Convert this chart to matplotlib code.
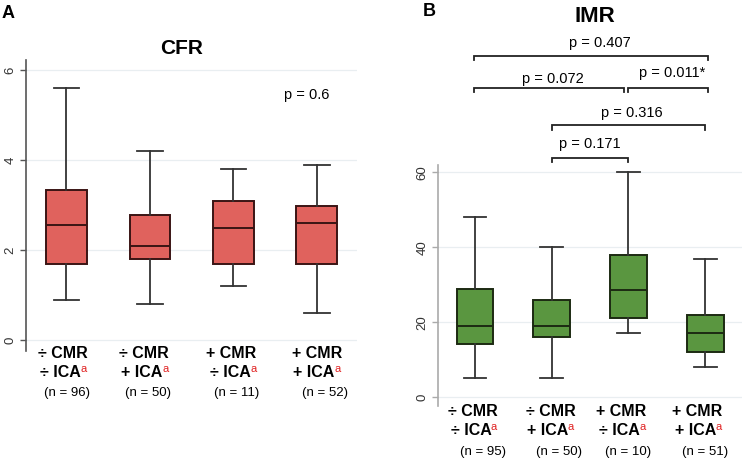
import matplotlib
matplotlib.use("Agg")
import matplotlib.pyplot as plt

plt.rcParams['font.family'] = ['Liberation Sans', 'DejaVu Sans']

# ---------------- data ----------------
groups_cmr = ["÷ CMR", "÷ CMR", "+ CMR", "+ CMR"]
groups_ica = ["÷ ICA", "+ ICA", "÷ ICA", "+ ICA"]
n_cfr = [96, 50, 11, 52]
n_imr = [95, 50, 10, 51]

# CFR box statistics: whislo, q1, median, q3, whishi
cfr_whislo = [0.9, 0.8, 1.2, 0.6]
cfr_q1 = [1.7, 1.8, 1.7, 1.7]
cfr_med = [2.55, 2.1, 2.5, 2.6]
cfr_q3 = [3.33, 2.78, 3.08, 2.98]
cfr_whishi = [5.6, 4.2, 3.8, 3.9]
cfr_p = "p = 0.6"

# IMR box statistics
imr_whislo = [5, 5, 17, 8]
imr_q1 = [14.2, 16.1, 21.1, 12.1]
imr_med = [19, 19, 28.5, 17]
imr_q3 = [28.8, 25.8, 37.9, 21.8]
imr_whishi = [48, 40, 60, 37]

# pairwise comparisons for IMR (group i, group j, label)
comp_pairs = [(2, 3), (2, 4), (1, 3), (3, 4), (1, 4)]
comp_labels = ["p = 0.171", "p = 0.316", "p = 0.072", "p = 0.011*", "p = 0.407"]

# ---------------- layout ----------------
W, H = 750, 459
fig = plt.figure(figsize=(7.5, 4.59), dpi=100)

def fx(px):
    return px / W

def fy(py):
    return 1 - py / H

axA = fig.add_axes([fx(26), fy(351), fx(357) - fx(26), fy(60) - fy(351)])
axB = fig.add_axes([fx(438), fy(406), fx(742) - fx(438), fy(165) - fy(406)])

def make_stats(lo, q1, med, q3, hi):
    return [dict(whislo=a, q1=b, med=c, q3=d, whishi=e, fliers=[])
            for a, b, c, d, e in zip(lo, q1, med, q3, hi)]

def draw_box(ax, stats, face, edge, width, spine_color):
    pos = [1, 2, 3, 4]
    ax.bxp(stats, positions=pos, widths=width, patch_artist=True,
           showfliers=False,
           boxprops=dict(facecolor=face, edgecolor=edge, linewidth=1.4),
           medianprops=dict(color=edge, linewidth=1.4),
           whiskerprops=dict(color="#333333", linewidth=1.3),
           capprops=dict(color="#333333", linewidth=1.3),
           capwidths=width * 0.62, zorder=3)
    for s in ["top", "right", "bottom"]:
        ax.spines[s].set_visible(False)
    ax.spines["left"].set_color(spine_color)
    ax.spines["left"].set_linewidth(1.2)
    ax.set_xticks([])
    ax.yaxis.grid(True, color="#e9eef1", linewidth=0.9)
    ax.set_axisbelow(True)
    ax.tick_params(axis="y", length=4, width=1, color=spine_color,
                   labelsize=9.5, labelcolor="#333333", pad=3)

statsA = make_stats(cfr_whislo, cfr_q1, cfr_med, cfr_q3, cfr_whishi)
statsB = make_stats(imr_whislo, imr_q1, imr_med, imr_q3, imr_whishi)

axA.set_xlim(0.515, 4.48)
axA.set_ylim(-0.244, 6.222)
axA.set_yticks([0, 2, 4, 6])
draw_box(axA, statsA, "#e0625d", "#3a1414", 0.49, "#555555")

axB.set_xlim(0.517, 4.48)
axB.set_ylim(-2.4, 62.0)
axB.set_yticks([0, 20, 40, 60])
draw_box(axB, statsB, "#5a9640", "#1c2a12", 0.48, "#aaaaaa")

for ax in (axA, axB):
    for lab in ax.get_yticklabels():
        lab.set_rotation(90)
        lab.set_va("center")

# titles and panel letters
fig.text(fx(182), fy(48), "CFR", ha="center", va="center", fontsize=15, fontweight="bold")
fig.text(fx(595), fy(16), "IMR", ha="center", va="center", fontsize=16, fontweight="bold")
fig.text(fx(2), fy(13), "A", ha="left", va="center", fontsize=13, fontweight="bold")
fig.text(fx(423), fy(11), "B", ha="left", va="center", fontsize=13, fontweight="bold")

# p-value in A
axA.text(3.88, 5.45, cfr_p, ha="center", va="center", fontsize=10.5)

# comparisons in B
br_levels = [64.0, 72.6, 82.7, 82.7, 91.2]
txt_y = [67.6, 75.8, 85.1, 86.6, 94.5]
txt_dx = [0.0, 0.04, 0.01, 0.07, 0.13]
end_adj = [(0.0, 0.0), (0.0, 0.0), (-0.01, -0.06), (0.0, 0.04), (-0.01, 0.04)]
for (i, j), lab, yl, ty, dx, (a1, a2) in zip(comp_pairs, comp_labels, br_levels, txt_y, txt_dx, end_adj):
    x1, x2 = i + a1, j + a2
    axB.plot([x1, x1, x2, x2], [yl - 1.2, yl, yl, yl - 1.2], color="#222222",
             linewidth=1.3, clip_on=False, solid_joinstyle="miter")
    axB.text((i + j) / 2 + dx, ty, lab, ha="center", va="center", fontsize=10.5,
             clip_on=False)

# group labels
fig.canvas.draw()
renderer = fig.canvas.get_renderer()

def group_labels(ax, ns, rows_px, offs):
    for k in range(4):
        x = k + 1
        o = offs[k]
        x_px = ax.transData.transform((x, 0))[0]
        # line 1
        fig.text(fx(x_px + o[0]), fy(rows_px[0]), groups_cmr[k], ha="center",
                 va="center", fontsize=11.5, fontweight="bold")
        # line 2 with red superscript a
        t = fig.text(fx(x_px + o[1] - 3), fy(rows_px[1]), groups_ica[k], ha="center",
                     va="baseline", fontsize=11.5, fontweight="bold")
        bb = t.get_window_extent(renderer)
        base_y = fig.transFigure.transform((0, fy(rows_px[1])))[1]
        fig.text(fx(bb.x1 - 0.5), (base_y + 5) / H, "a", ha="left", va="baseline",
                 fontsize=8, color="#e02020")
        # n
        fig.text(fx(x_px + o[2]), fy(rows_px[2]), "(n = %d)" % ns[k], ha="center",
                 va="center", fontsize=9.5)

group_labels(axA, n_cfr, [353, 377, 393],
             [(-4, -3, 1), (-6, -5, -2), (-2, 0, 3), (0, 0, 8)])
group_labels(axB, n_imr, [411.5, 435, 451.5],
             [(-2, -1, 8), (-1, -1, 7), (-7, -6, 0), (-8, -7, 0)])

fig.savefig("out.png", dpi=100)
